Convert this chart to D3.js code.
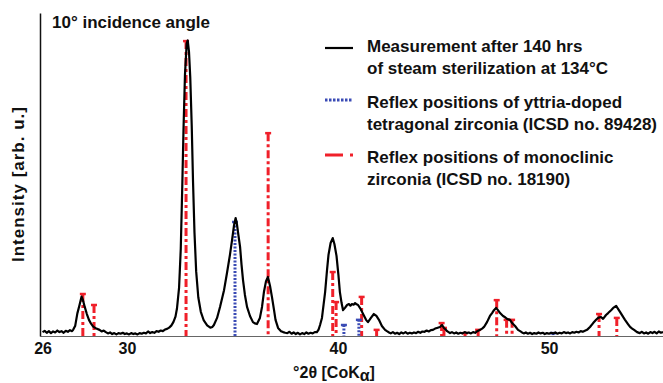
<!DOCTYPE html>
<html>
<head>
<meta charset="utf-8">
<script src="https://cdn.jsdelivr.net/npm/d3@7"></script>
<style>
  body { margin: 0; background: #fff; }
  svg text { font-family: "Liberation Sans", Arial, sans-serif; font-weight: bold; fill: #111; }
</style>
</head>
<body>
<svg id="xrd" width="663" height="383"></svg>
<script>
// x-ray scan (2theta in degrees, intensity in arb. units 0..100)
const scanAngle = [
  26.0, 26.1, 26.2, 26.3, 26.4, 26.5, 26.6, 26.7, 26.8, 26.9, 27.0, 27.1, 27.2, 27.3, 27.4,
  27.45, 27.55, 27.65, 27.75, 27.85, 27.92, 28.0, 28.1, 28.2, 28.3, 28.4, 28.55, 28.7, 28.8, 28.9,
  29.0, 29.1, 29.2, 29.3, 29.4, 29.5, 29.6, 29.7, 29.8, 29.9, 30.0, 30.1, 30.2, 30.3, 30.4, 30.5,
  30.6, 30.7, 30.8, 30.9, 31.0, 31.1, 31.2, 31.3, 31.4, 31.5, 31.6, 31.7, 31.8, 31.9, 32.0, 32.1,
  32.2, 32.3, 32.37, 32.47, 32.55, 32.62, 32.68, 32.75, 32.83, 32.88, 32.94, 33.0, 33.07, 33.13,
  33.2, 33.28, 33.38, 33.5, 33.64, 33.8, 33.95, 34.05, 34.12, 34.27, 34.41, 34.6, 34.74, 34.88,
  34.98, 35.07, 35.15, 35.21, 35.28, 35.36, 35.43, 35.5, 35.59, 35.69, 35.83, 35.97, 36.06, 36.16,
  36.3, 36.4, 36.49, 36.59, 36.68, 36.78, 36.87, 36.97, 37.04, 37.16, 37.3, 37.4, 37.5, 37.6, 37.7,
  37.8, 37.9, 38.0, 38.1, 38.2, 38.3, 38.4, 38.5, 38.6, 38.7, 38.8, 38.9, 39.0, 39.08, 39.15, 39.24,
  39.39, 39.48, 39.55, 39.65, 39.75, 39.83, 39.93, 40.02, 40.09, 40.17, 40.24, 40.33, 40.43, 40.52,
  40.59, 40.66, 40.74, 40.81, 40.88, 40.95, 41.07, 41.19, 41.33, 41.42, 41.56, 41.7, 41.82, 41.94,
  42.08, 42.23, 42.32, 42.42, 42.5, 42.6, 42.7, 42.8, 42.9, 43.0, 43.1, 43.2, 43.3, 43.4, 43.5,
  43.6, 43.7, 43.8, 43.9, 44.0, 44.1, 44.2, 44.3, 44.4, 44.5, 44.6, 44.69, 44.83, 44.93, 45.02,
  45.1, 45.17, 45.31, 45.4, 45.5, 45.6, 45.7, 45.8, 45.9, 46.0, 46.1, 46.2, 46.3, 46.4, 46.5, 46.6,
  46.73, 46.83, 46.92, 47.06, 47.2, 47.3, 47.39, 47.49, 47.58, 47.68, 47.82, 47.92, 48.01, 48.15,
  48.25, 48.39, 48.53, 48.63, 48.72, 48.8, 48.9, 49.0, 49.1, 49.2, 49.3, 49.4, 49.5, 49.6, 49.7,
  49.8, 49.9, 50.0, 50.1, 50.2, 50.3, 50.4, 50.5, 50.6, 50.7, 50.8, 50.9, 51.0, 51.1, 51.2, 51.3,
  51.4, 51.5, 51.6, 51.7, 51.8, 51.94, 52.09, 52.23, 52.32, 52.46, 52.56, 52.7, 52.8, 52.94, 53.04,
  53.18, 53.27, 53.37, 53.51, 53.6, 53.74, 53.84, 53.94, 54.03, 54.17, 54.3, 54.4, 54.5, 54.6, 54.7,
  54.8, 54.9, 55.0, 55.1, 55.2, 55.3, 55.4
];
const scanIntensity = [
  1.2, 1.6, 1.0, 1.5, 0.9, 1.4, 1.1, 1.7, 1.2, 1.5, 1.0, 1.6, 1.3, 1.8, 1.5,
  1.9, 3.2, 7.0, 9.5, 12.2, 11.0, 9.0, 6.8, 5.0, 3.8, 2.9, 2.3, 1.9, 1.4, 1.7,
  1.2, 0.8, 1.1, 0.6, 0.9, 0.5, 0.9, 0.7, 1.0, 0.6, 0.8, 0.5, 0.9, 0.6, 0.8, 0.5,
  0.9, 0.7, 1.0, 0.8, 1.4, 0.9, 1.2, 1.0, 1.5, 1.3, 1.7, 1.5, 2.0, 2.2, 2.6, 3.2,
  4.3, 6.0, 8.5, 15, 27, 46, 64, 81, 90.5, 91.5, 88, 80, 65, 48,
  32, 20, 12, 7.5, 4.8, 3.3, 2.6, 2.8, 3.4, 5.6, 9.0, 14.2, 19.5, 25.1,
  29.7, 34.1, 36.5, 34.7, 31.3, 27.6, 22.0, 17.3, 12.7, 9.0, 6.2, 4.3, 3.9, 3.7,
  5.6, 9.0, 13.6, 17.0, 18.3, 15.5, 12.1, 8.0, 5.0, 2.5, 1.5, 1.2, 1.0, 0.9, 1.3,
  0.7, 1.1, 0.6, 1.0, 0.5, 0.9, 0.6, 1.1, 0.7, 1.0, 0.8, 1.2, 1.2, 2.0, 3.4, 5.6,
  13.6, 20.4, 25.1, 28.8, 30.3, 28.5, 24.8, 18.9, 13.6, 10.2, 8.0, 8.7, 9.6, 9.9,
  9.4, 9.9, 9.7, 10.2, 9.8, 9.6, 8.4, 6.8, 5.0, 4.3, 5.6, 6.8, 6.2, 5.0,
  3.1, 1.9, 1.5, 1.1, 0.8, 1.2, 0.7, 1.0, 0.6, 1.1, 0.8, 1.2, 0.7, 1.0, 0.8,
  1.1, 0.9, 1.3, 1.0, 1.4, 1.3, 1.7, 1.4, 1.8, 1.9, 2.3, 2.5, 2.8, 3.4, 2.5,
  2.0, 1.5, 0.9, 1.2, 0.8, 1.1, 0.7, 1.0, 0.8, 1.2, 0.9, 1.1, 0.8, 1.2, 1.0, 1.5,
  1.9, 2.3, 2.8, 4.3, 6.2, 7.1, 8.0, 8.7, 8.0, 7.1, 6.2, 5.8, 5.3, 5.0,
  4.0, 3.1, 1.9, 1.5, 1.1, 0.8, 1.1, 0.7, 1.0, 0.6, 0.9, 0.7, 1.1, 0.8, 1.0,
  0.6, 0.9, 0.7, 1.0, 0.8, 1.1, 0.7, 1.0, 0.8, 1.2, 0.9, 1.1, 0.8, 1.2, 1.0, 1.3,
  1.1, 1.5, 1.3, 1.6, 1.9, 2.8, 4.0, 5.0, 5.6, 5.9, 5.3, 6.5, 7.1, 8.0, 8.7,
  9.3, 8.4, 7.4, 5.9, 5.0, 3.7, 2.8, 2.3, 1.9, 1.2, 0.9, 1.3, 0.8, 1.1, 0.7,
  1.2, 0.9, 1.3, 0.8, 1.4, 1.0, 1.2
];

// reference reflexes (ICSD 18190, monoclinic) and (ICSD 89428, tetragonal)
const monoclinicAngle = [27.91, 28.44, 32.80, 36.69, 39.75, 39.91, 41.12, 41.83, 44.91, 45.02, 46.02, 46.64, 47.52, 47.99, 48.25, 52.37, 53.21];
const monoclinicIntensity = [13.0, 9.6, 91.3, 62.8, 19.8, 10.5, 12.1, 1.9, 4.0, 2.5, 0.9, 1.9, 11.1, 5.0, 5.0, 6.8, 5.6];
const tetragonalAngle = [35.12, 40.28, 40.99, 50.19];
const tetragonalIntensity = [35.3, 3.4, 5.0, 0.9];

const xTicks = [26, 30, 40, 50];
const legendLabels = [
  ["Measurement after 140 hrs", "of steam sterilization at 134°C"],
  ["Reflex positions of yttria-doped", "tetragonal zirconia (ICSD no. 89428)"],
  ["Reflex positions of monoclinic", "zirconia (ICSD no. 18190)"]
];

const svg = d3.select("#xrd");
const redHex = "#f0202a";
const blueHex = "#3a4bb5";

const x = d3.scaleLinear().domain([25.88, 55.4]).range([40, 663]);
const y = d3.scaleLinear().domain([0, 100]).range([336, 13]);

// reflex markers, drawn from the top down so the dash pattern starts at the cap
function drawReflexes(angles, heights, color, dash, cls) {
  const g = svg.append("g").attr("class", cls);
  const data = angles.map((a, i) => ({ a: a, h: heights[i] }));
  g.selectAll("line.bar")
    .data(data)
    .join("line")
    .attr("class", "bar")
    .attr("x1", d => x(d.a)).attr("x2", d => x(d.a))
    .attr("y1", d => y(d.h)).attr("y2", y(0))
    .attr("stroke", color)
    .attr("stroke-width", 3)
    .attr("stroke-dasharray", dash);
  g.selectAll("line.cap")
    .data(data)
    .join("line")
    .attr("class", "cap")
    .attr("x1", d => x(d.a) - 3).attr("x2", d => x(d.a) + 3)
    .attr("y1", d => y(d.h)).attr("y2", d => y(d.h))
    .attr("stroke", color)
    .attr("stroke-width", 2.5);
}

drawReflexes(monoclinicAngle, monoclinicIntensity, redHex, "8,3,3,3", "monoclinic");
drawReflexes(tetragonalAngle, tetragonalIntensity, blueHex, "2,1.5", "tetragonal");

// axes
svg.append("g")
  .attr("transform", `translate(0,${y(0)})`)
  .call(d3.axisBottom(x).tickValues(xTicks).tickSize(0).tickPadding(7).tickFormat(d3.format("d")))
  .call(g => g.select(".domain").attr("stroke", "#666").attr("stroke-width", 1.2))
  .call(g => g.selectAll("text").attr("font-size", 16).attr("fill", "#111"));

svg.append("g")
  .attr("transform", `translate(${x.range()[0]},0)`)
  .call(d3.axisLeft(y).tickValues([]).tickSizeOuter(0))
  .call(g => g.select(".domain").attr("stroke", "#111").attr("stroke-width", 1.5));

// measurement
const scan = scanAngle.map((a, i) => [a, scanIntensity[i]]);
svg.append("path")
  .datum(scan)
  .attr("fill", "none")
  .attr("stroke", "#000")
  .attr("stroke-width", 2.2)
  .attr("stroke-linejoin", "round")
  .attr("d", d3.line().x(d => x(d[0])).y(d => y(d[1])));

// labels
svg.append("text").attr("x", 52).attr("y", 28).attr("font-size", 17).text("10° incidence angle");

svg.append("text")
  .attr("transform", "translate(24,184) rotate(-90)")
  .attr("text-anchor", "middle")
  .attr("font-size", 17)
  .attr("letter-spacing", 1)
  .text("Intensity [arb. u.]");

const xLabel = svg.append("text").attr("x", 334).attr("y", 378).attr("text-anchor", "middle").attr("font-size", 16);
xLabel.append("tspan").text("°2θ [CoK");
xLabel.append("tspan").attr("dy", 3).text("α");
xLabel.append("tspan").attr("dy", -3).text("]");

// legend
const legendRows = [
  { y: 48, color: "#000", dash: null, width: 2.2, textY: 52 },
  { y: 100, color: blueHex, dash: "2.5,1.5", width: 3, textY: 108 },
  { y: 155, color: redHex, dash: "18,7,3,20", width: 3, textY: 163 }
];
const legend = svg.append("g").attr("class", "legend");
legendRows.forEach((r, i) => {
  legend.append("line")
    .attr("x1", 325).attr("x2", 353).attr("y1", r.y).attr("y2", r.y)
    .attr("stroke", r.color).attr("stroke-width", r.width)
    .attr("stroke-dasharray", r.dash);
  const t = legend.append("text").attr("x", 367).attr("y", r.textY).attr("font-size", 17);
  legendLabels[i].forEach((line, j) => {
    t.append("tspan").attr("x", 367).attr("dy", j === 0 ? 0 : 22).text(line);
  });
});
</script>
</body>
</html>
